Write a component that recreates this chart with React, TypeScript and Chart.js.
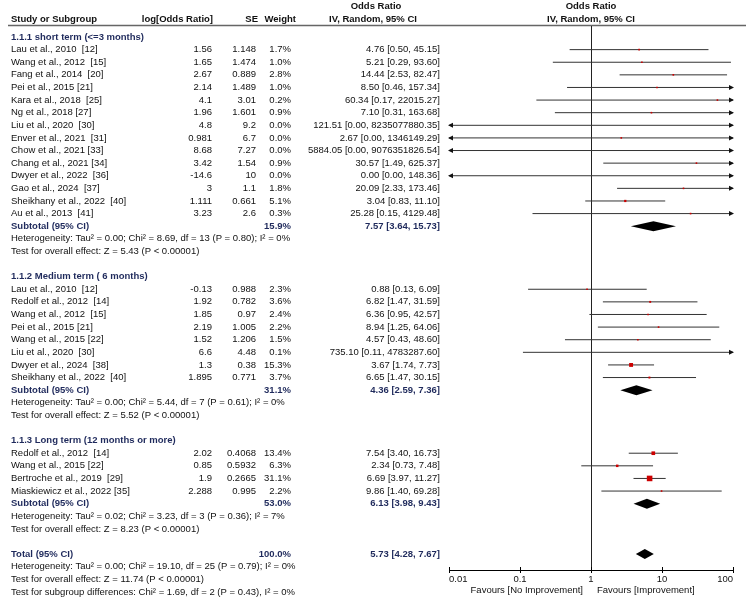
import React, { useEffect, useRef } from 'react';
import { Chart, registerables } from 'chart.js';
Chart.register(...registerables);

// ---------- Data ----------
const sectionTitles = [
  '1.1.1 short term (<=3 months)',
  '1.1.2 Medium term ( 6 months)',
  '1.1.3 Long term (12 months or more)',
];

// 1.1.1 short term
const s1Names = [
  'Lau et al., 2010  [12]', 'Wang et al., 2012  [15]', 'Fang et al., 2014  [20]', 'Pei et al., 2015 [21]',
  'Kara et al., 2018  [25]', 'Ng et al., 2018 [27]', 'Liu et al., 2020  [30]', 'Enver et al., 2021  [31]',
  'Chow et al., 2021 [33]', 'Chang et al., 2021 [34]', 'Dwyer et al., 2022  [36]', 'Gao et al., 2024  [37]',
  'Sheikhany et al., 2022  [40]', 'Au et al., 2013  [41]',
];
const s1LogOR = ['1.56', '1.65', '2.67', '2.14', '4.1', '1.96', '4.8', '0.981', '8.68', '3.42', '-14.6', '3', '1.111', '3.23'];
const s1SE = ['1.148', '1.474', '0.889', '1.489', '3.01', '1.601', '9.2', '6.7', '7.27', '1.54', '10', '1.1', '0.661', '2.6'];
const s1Weight = [1.7, 1.0, 2.8, 1.0, 0.2, 0.9, 0.0, 0.0, 0.0, 0.9, 0.0, 1.8, 5.1, 0.3];
const s1OR = [4.76, 5.21, 14.44, 8.5, 60.34, 7.1, 121.51, 2.67, 5884.05, 30.57, 0.0, 20.09, 3.04, 25.28];
const s1Lo = [0.5, 0.29, 2.53, 0.46, 0.17, 0.31, 0.0, 0.0, 0.0, 1.49, 0.0, 2.33, 0.83, 0.15];
const s1Hi = [45.15, 93.6, 82.47, 157.34, 22015.27, 163.68, 8235077880.35, 1346149.29, 9076351826.54, 625.37, 148.36, 173.46, 11.1, 4129.48];

// 1.1.2 medium term
const s2Names = [
  'Lau et al., 2010  [12]', 'Redolf et al., 2012  [14]', 'Wang et al., 2012  [15]', 'Pei et al., 2015 [21]',
  'Wang et al., 2015 [22]', 'Liu et al., 2020  [30]', 'Dwyer et al., 2024  [38]', 'Sheikhany et al., 2022  [40]',
];
const s2LogOR = ['-0.13', '1.92', '1.85', '2.19', '1.52', '6.6', '1.3', '1.895'];
const s2SE = ['0.988', '0.782', '0.97', '1.005', '1.206', '4.48', '0.38', '0.771'];
const s2Weight = [2.3, 3.6, 2.4, 2.2, 1.5, 0.1, 15.3, 3.7];
const s2OR = [0.88, 6.82, 6.36, 8.94, 4.57, 735.1, 3.67, 6.65];
const s2Lo = [0.13, 1.47, 0.95, 1.25, 0.43, 0.11, 1.74, 1.47];
const s2Hi = [6.09, 31.59, 42.57, 64.06, 48.6, 4783287.6, 7.73, 30.15];

// 1.1.3 long term
const s3Names = ['Redolf et al., 2012  [14]', 'Wang et al., 2015 [22]', 'Bertroche et al., 2019  [29]', 'Miaskiewicz et al., 2022 [35]'];
const s3LogOR = ['2.02', '0.85', '1.9', '2.288'];
const s3SE = ['0.4068', '0.5932', '0.2665', '0.995'];
const s3Weight = [13.4, 6.3, 31.1, 2.2];
const s3OR = [7.54, 2.34, 6.69, 9.86];
const s3Lo = [3.4, 0.73, 3.97, 1.4];
const s3Hi = [16.73, 7.48, 11.27, 69.28];

// Subtotals
const subWeight = [15.9, 31.1, 53.0];
const subOR = [7.57, 4.36, 6.13];
const subLo = [3.64, 2.59, 3.98];
const subHi = [15.73, 7.36, 9.43];
const subHet = [
  'Heterogeneity: Tau² = 0.00; Chi² = 8.69, df = 13 (P = 0.80); I² = 0%',
  'Heterogeneity: Tau² = 0.00; Chi² = 5.44, df = 7 (P = 0.61); I² = 0%',
  'Heterogeneity: Tau² = 0.02; Chi² = 3.23, df = 3 (P = 0.36); I² = 7%',
];
const subTest = [
  'Test for overall effect: Z = 5.43 (P < 0.00001)',
  'Test for overall effect: Z = 5.52 (P < 0.00001)',
  'Test for overall effect: Z = 8.23 (P < 0.00001)',
];

// Total
const totalWeight = 100.0;
const totalOR = 5.73;
const totalLo = 4.28;
const totalHi = 7.67;
const totalNotes = [
  'Heterogeneity: Tau² = 0.00; Chi² = 19.10, df = 25 (P = 0.79); I² = 0%',
  'Test for overall effect: Z = 11.74 (P < 0.00001)',
  'Test for subgroup differences: Chi² = 1.69, df = 2 (P = 0.43), I² = 0%',
];

const axisTicks = [0.01, 0.1, 1, 10, 100];
const axisTickLabels = ['0.01', '0.1', '1', '10', '100'];
const favoursLeft = 'Favours [No Improvement]';
const favoursRight = 'Favours [Improvement]';

// ---------- Layout helpers ----------
const FONT = '"Liberation Sans", Arial, sans-serif';
const FS = 9.5;
const NAVY = '#1f2a5c';
const TXT = '#111111';

const sections = [
  { names: s1Names, log: s1LogOR, se: s1SE, w: s1Weight, or: s1OR, lo: s1Lo, hi: s1Hi },
  { names: s2Names, log: s2LogOR, se: s2SE, w: s2Weight, or: s2OR, lo: s2Lo, hi: s2Hi },
  { names: s3Names, log: s3LogOR, se: s3SE, w: s3Weight, or: s3OR, lo: s3Lo, hi: s3Hi },
];

type Row = { kind: string; s?: number; j?: number; text?: string };
const rows: Row[] = [];
sections.forEach((sec, s) => {
  rows.push({ kind: 'section', text: sectionTitles[s] });
  sec.names.forEach((_, j) => rows.push({ kind: 'study', s, j }));
  rows.push({ kind: 'subtotal', s });
  rows.push({ kind: 'note', text: subHet[s] });
  rows.push({ kind: 'note', text: subTest[s] });
  rows.push({ kind: 'blank' });
});
rows.push({ kind: 'total' });
totalNotes.forEach((t) => rows.push({ kind: 'note', text: t }));

const fmtCI = (o: number, l: number, h: number) => `${o.toFixed(2)} [${l.toFixed(2)}, ${h.toFixed(2)}]`;

const points: { x: number; y: number; w: number }[] = [];
rows.forEach((r, i) => {
  if (r.kind === 'study') {
    const sec = sections[r.s!];
    const o = sec.or[r.j!];
    if (o >= 0.01 && o <= 100) points.push({ x: o, y: i, w: sec.w[r.j!] });
  }
});

const ROW_H = 12.7;
const FIRST_Y = 33.3;
const AXIS_Y = 570;

const forestPlugin = {
  id: 'forest',
  beforeDatasetsDraw(chart: any) {
    const { ctx, chartArea, scales } = chart;
    const xs = scales.x;
    const ys = scales.y;
    ctx.save();
    // header rule
    ctx.strokeStyle = '#666';
    ctx.lineWidth = 1.3;
    ctx.beginPath();
    ctx.moveTo(8, 25.5);
    ctx.lineTo(746, 25.5);
    ctx.stroke();
    // line of no effect
    const x1 = Math.round(xs.getPixelForValue(1)) + 0.5;
    ctx.strokeStyle = '#222';
    ctx.lineWidth = 1;
    ctx.beginPath();
    ctx.moveTo(x1, 26);
    ctx.lineTo(x1, chartArea.bottom);
    ctx.stroke();
    // CI lines
    rows.forEach((r, i) => {
      if (r.kind !== 'study') return;
      const sec = sections[r.s!];
      const lo = sec.lo[r.j!];
      const hi = sec.hi[r.j!];
      const y = ys.getPixelForValue(i);
      const arrowL = lo < 0.01;
      const arrowR = hi > 100;
      const xa = arrowL ? chartArea.left : xs.getPixelForValue(lo);
      const xb = arrowR ? chartArea.right : xs.getPixelForValue(hi);
      ctx.strokeStyle = '#333';
      ctx.lineWidth = 1;
      ctx.beginPath();
      ctx.moveTo(xa, y);
      ctx.lineTo(xb, y);
      ctx.stroke();
      ctx.fillStyle = '#111';
      if (arrowR) {
        ctx.beginPath();
        ctx.moveTo(xb + 1, y);
        ctx.lineTo(xb - 4, y - 2.5);
        ctx.lineTo(xb - 4, y + 2.5);
        ctx.closePath();
        ctx.fill();
      }
      if (arrowL) {
        ctx.beginPath();
        ctx.moveTo(xa - 1, y);
        ctx.lineTo(xa + 4, y - 2.5);
        ctx.lineTo(xa + 4, y + 2.5);
        ctx.closePath();
        ctx.fill();
      }
    });
    ctx.restore();
  },
  afterDraw(chart: any) {
    const { ctx, chartArea, scales } = chart;
    const xs = scales.x;
    const ys = scales.y;
    ctx.save();
    // upward part of axis ticks
    ctx.strokeStyle = '#000';
    ctx.lineWidth = 1;
    axisTicks.forEach((v) => {
      const x = Math.round(xs.getPixelForValue(v)) + 0.5;
      ctx.beginPath();
      ctx.moveTo(x, chartArea.bottom - 3);
      ctx.lineTo(x, chartArea.bottom);
      ctx.stroke();
    });

    const diamond = (o: number, l: number, h: number, y: number) => {
      ctx.fillStyle = '#000';
      ctx.beginPath();
      ctx.moveTo(xs.getPixelForValue(l), y);
      ctx.lineTo(xs.getPixelForValue(o), y - 5);
      ctx.lineTo(xs.getPixelForValue(h), y);
      ctx.lineTo(xs.getPixelForValue(o), y + 5);
      ctx.closePath();
      ctx.fill();
    };

    const txt = (s: string, x: number, y: number, align: CanvasTextAlign, bold = false, color = TXT) => {
      ctx.font = `${bold ? 'bold ' : ''}${FS}px ${FONT}`;
      ctx.fillStyle = color;
      ctx.textAlign = align;
      ctx.textBaseline = 'middle';
      ctx.fillText(s, x, y);
    };

    // headers
    const xOne = xs.getPixelForValue(1);
    txt('Odds Ratio', 376, 6.5, 'center', true);
    txt('Odds Ratio', xOne, 6.5, 'center', true);
    txt('Study or Subgroup', 11, 19, 'left', true);
    txt('log[Odds Ratio]', 213, 19, 'right', true);
    txt('SE', 258, 19, 'right', true);
    txt('Weight', 296, 19, 'right', true);
    txt('IV, Random, 95% CI', 373, 19, 'center', true);
    txt('IV, Random, 95% CI', xOne, 19, 'center', true);

    rows.forEach((r, i) => {
      const y = ys.getPixelForValue(i);
      if (r.kind === 'section') {
        txt(r.text!, 11, y, 'left', true, NAVY);
      } else if (r.kind === 'study') {
        const sec = sections[r.s!];
        const j = r.j!;
        txt(sec.names[j], 11, y, 'left');
        txt(sec.log[j], 212, y, 'right');
        txt(sec.se[j], 256, y, 'right');
        txt(sec.w[j].toFixed(1) + '%', 291, y, 'right');
        txt(fmtCI(sec.or[j], sec.lo[j], sec.hi[j]), 440, y, 'right');
      } else if (r.kind === 'subtotal') {
        const s = r.s!;
        txt('Subtotal (95% CI)', 11, y, 'left', true, NAVY);
        txt(subWeight[s].toFixed(1) + '%', 291, y, 'right', true, NAVY);
        txt(fmtCI(subOR[s], subLo[s], subHi[s]), 440, y, 'right', true, NAVY);
        diamond(subOR[s], subLo[s], subHi[s], y);
      } else if (r.kind === 'total') {
        txt('Total (95% CI)', 11, y, 'left', true, NAVY);
        txt(totalWeight.toFixed(1) + '%', 291, y, 'right', true, NAVY);
        txt(fmtCI(totalOR, totalLo, totalHi), 440, y, 'right', true, NAVY);
        diamond(totalOR, totalLo, totalHi, y);
      } else if (r.kind === 'note') {
        txt(r.text!, 11, y, 'left');
      }
    });

    // favours labels
    txt(favoursLeft, xOne - 8, 590, 'right');
    txt(favoursRight, xOne + 6, 590, 'left');
    ctx.restore();
  },
};

export default function App() {
  const ref = useRef<HTMLCanvasElement | null>(null);
  useEffect(() => {
    if (!ref.current) return;
    const yMin = -FIRST_Y / ROW_H;
    const yMax = (AXIS_Y - FIRST_Y) / ROW_H;
    const chart = new Chart(ref.current, {
      type: 'scatter',
      data: {
        datasets: [
          {
            data: points.map((p) => ({ x: p.x, y: p.y })),
            pointStyle: 'rect',
            pointRadius: points.map((p) => Math.max(1.6, Math.sqrt(p.w) * 1.0) / 1.414),
            pointHoverRadius: points.map((p) => Math.max(1.6, Math.sqrt(p.w) * 1.0) / 1.414),
            backgroundColor: '#cc0000',
            borderColor: '#cc0000',
            borderWidth: 0,
          },
        ],
      },
      options: {
        responsive: false,
        animation: false,
        events: [],
        layout: { padding: { left: 449, right: 17, top: 0, bottom: 0 } },
        plugins: { legend: { display: false }, tooltip: { enabled: false } },
        scales: {
          x: {
            type: 'logarithmic',
            position: 'bottom',
            min: 0.01,
            max: 100,
            afterBuildTicks: (s: any) => {
              s.ticks = axisTicks.map((v) => ({ value: v }));
            },
            afterFit: (s: any) => {
              s.height = 609 - AXIS_Y;
            },
            grid: { drawOnChartArea: false, drawTicks: true, tickLength: 3, color: '#000', lineWidth: 1 },
            border: { display: true, color: '#000', width: 1 },
            ticks: {
              autoSkip: false,
              maxRotation: 0,
              align: 'inner',
              padding: 1,
              color: '#111',
              font: { family: FONT, size: FS },
              callback: (_v: any, i: number) => axisTickLabels[i],
            },
          },
          y: {
            type: 'linear',
            display: false,
            reverse: true,
            min: yMin,
            max: yMax,
          },
        },
      } as any,
      plugins: [forestPlugin],
    });
    return () => chart.destroy();
  }, []);
  return (
    <div style={{ position: 'absolute', left: 0, top: 0, width: 750, height: 609, background: '#fff' }}>
      <canvas ref={ref} width={750} height={609} style={{ display: 'block' }} />
    </div>
  );
}
